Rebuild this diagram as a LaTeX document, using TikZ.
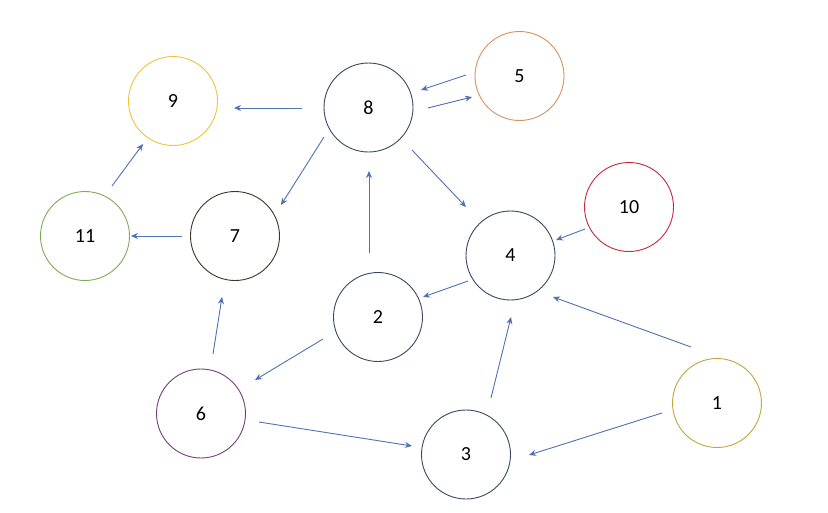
\documentclass[tikz,border=0pt]{standalone}
\usepackage{fontspec}
\setmainfont{Carlito}
\usetikzlibrary{arrows.meta}
\definecolor{arrowblue}{RGB}{79,114,180}
\definecolor{navy}{RGB}{58,72,100}
\definecolor{gold}{RGB}{240,195,60}
\definecolor{goldd}{RGB}{195,165,60}
\definecolor{orng}{RGB}{215,145,95}
\definecolor{grn}{RGB}{125,170,85}
\definecolor{olive}{RGB}{55,55,40}
\definecolor{redc}{RGB}{200,40,55}
\definecolor{purp}{RGB}{120,60,130}
\tikzset{
  vnode/.style={circle, draw=navy, line width=0.9pt, minimum size=89pt, inner sep=0pt,
    font=\fontsize{20}{24}\selectfont},
  edge/.style={draw=arrowblue, line width=0.9pt, -{Stealth[length=7pt,width=6pt]}}
}
\begin{document}
\begin{tikzpicture}[x=1pt,y=-1pt]
\useasboundingbox[fill=white] (0,0) rectangle (828,512);
\node[vnode, draw=gold]  (n9)  at (173,101) {9};
\node[vnode]             (n8)  at (368.5,107.5) {8};
\node[vnode, draw=orng]  (n5)  at (519.5,76) {5};
\node[vnode, draw=grn]   (n11) at (85,236) {11};
\node[vnode, draw=olive] (n7)  at (235,236) {7};
\node[vnode, draw=redc]  (n10) at (629,207) {10};
\node[vnode]             (n4)  at (510.5,255.5) {4};
\node[vnode]             (n2)  at (378,317) {2};
\node[vnode, draw=purp]  (n6)  at (201,413.5) {6};
\node[vnode]             (n3)  at (466,454.5) {3};
\node[vnode, draw=goldd] (n1)  at (717,403) {1};
% connectors (with gaps as in the reference)
\coordinate (a1s) at (302,108); \coordinate (a1e) at (234,108);
\draw[edge] (a1s) -- (a1e);
\coordinate (a2s) at (466,75); \coordinate (a2e) at (421,90);
\draw[edge] (a2s) -- (a2e);
\coordinate (a3s) at (428,108); \coordinate (a3e) at (472,97);
\draw[edge] (a3s) -- (a3e);
\coordinate (a4s) at (324,137); \coordinate (a4e) at (281,205);
\draw[edge] (a4s) -- (a4e);
\coordinate (a5s) at (412,150); \coordinate (a5e) at (466,207);
\draw[edge] (a5s) -- (a5e);
\coordinate (a6s) at (369,253); \coordinate (a6e) at (369,171);
\draw[edge] (a6s) -- (a6e);
\coordinate (a7s) at (112,186); \coordinate (a7e) at (143,144);
\draw[edge] (a7s) -- (a7e);
\coordinate (a8s) at (182,236); \coordinate (a8e) at (131,236);
\draw[edge] (a8s) -- (a8e);
\coordinate (a9s) at (585,229); \coordinate (a9e) at (556,240);
\draw[edge] (a9s) -- (a9e);
\coordinate (a10s) at (468,281); \coordinate (a10e) at (423,297);
\draw[edge] (a10s) -- (a10e);
\coordinate (a11s) at (691,347); \coordinate (a11e) at (553,297);
\draw[edge] (a11s) -- (a11e);
\coordinate (a12s) at (323,339); \coordinate (a12e) at (255,380);
\draw[edge] (a12s) -- (a12e);
\coordinate (a13s) at (213,354); \coordinate (a13e) at (222,297);
\draw[edge] (a13s) -- (a13e);
\coordinate (a14s) at (259,422); \coordinate (a14e) at (412,446);
\draw[edge] (a14s) -- (a14e);
\coordinate (a15s) at (491,398); \coordinate (a15e) at (511,317);
\draw[edge] (a15s) -- (a15e);
\coordinate (a16s) at (662,413); \coordinate (a16e) at (529,455);
\draw[edge] (a16s) -- (a16e);
\end{tikzpicture}
\end{document}
